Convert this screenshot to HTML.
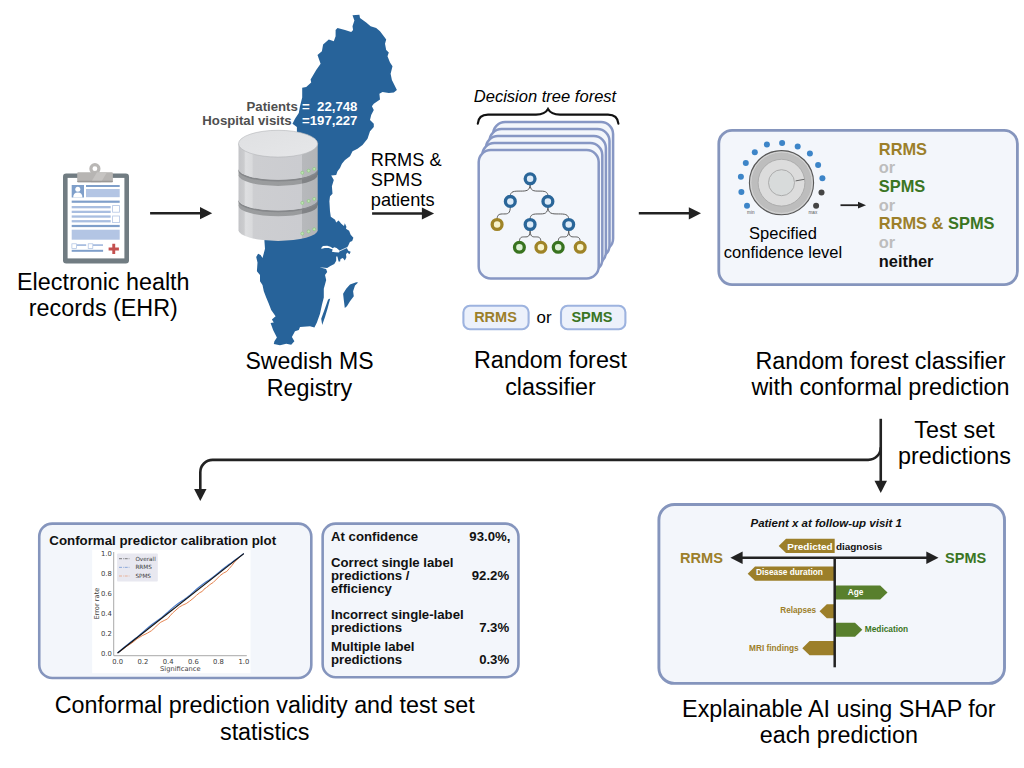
<!DOCTYPE html>
<html lang="en"><head><meta charset="utf-8"><title>Conformal prediction workflow</title>
<style>
html,body{margin:0;padding:0;background:#fff;}
body{width:1024px;height:768px;overflow:hidden;}
svg{display:block;font-family:"Liberation Sans",Arial,Helvetica,sans-serif;}
.t23{font-size:23.33px;fill:#000;}
.mid{text-anchor:middle;}
.end{text-anchor:end;}
.b{font-weight:bold;}
.i{font-style:italic;}
.dv{font-family:"DejaVu Sans","Liberation Sans",sans-serif;}
</style></head><body>
<svg width="1024" height="768" viewBox="0 0 1024 768">
<rect width="1024" height="768" fill="#fff"/>

<g id="sweden">
<path fill="#27639a" d="M352.5 15.2 L359.4 14.8 L360.0 18.1 L366.2 22.5 L370.6 26.2 L376.2 28.1 L380.0 31.2 L383.8 36.2 L386.2 39.4 L385.0 43.8 L386.2 50.0 L388.8 52.5 L387.5 56.2 L390.0 62.5 L392.5 66.2 L390.6 73.8 L391.9 80.0 L396.9 90.0 L393.8 92.5 L388.8 93.1 L382.5 91.9 L379.4 93.8 L380.0 99.4 L375.6 102.5 L373.8 103.8 L371.9 106.2 L373.8 110.0 L371.2 115.0 L370.0 120.0 L373.8 123.8 L373.8 126.9 L370.0 131.2 L367.5 138.8 L362.5 145.0 L357.5 148.8 L352.5 151.2 L350.0 156.2 L345.0 160.0 L341.9 163.8 L340.0 168.1 L337.5 171.2 L336.2 175.0 L331.2 175.6 L333.8 180.0 L331.9 186.2 L332.5 193.8 L330.0 196.2 L329.4 201.2 L330.0 211.2 L330.8 216.7 L335.1 219.8 L336.2 222.5 L338.6 220.6 L341.3 223.7 L344.0 226.1 L344.8 223.3 L346.4 226.8 L346.0 228.8 L349.1 230.8 L350.7 234.7 L353.4 237.8 L352.2 240.9 L349.9 242.1 L348.3 245.6 L346.8 247.9 L348.3 250.7 L350.7 251.8 L349.5 254.2 L347.2 252.6 L346.0 254.6 L346.4 257.3 L344.8 260.4 L342.9 258.1 L340.5 258.9 L340.1 261.6 L338.6 261.6 L337.4 256.5 L336.2 256.5 L336.2 260.8 L334.3 263.9 L330.4 265.9 L327.2 267.9 L319.4 267.3 L326.1 269.0 L327.2 272.0 L325.0 275.0 L326.2 280.0 L323.8 288.8 L323.8 297.5 L321.9 305.0 L320.0 313.8 L316.9 322.5 L314.4 327.5 L310.0 326.2 L300.0 326.9 L298.8 330.0 L295.0 331.2 L291.9 336.9 L294.4 341.2 L291.2 344.8 L286.2 343.8 L280.0 345.2 L273.8 344.0 L274.4 341.2 L276.9 337.5 L273.1 330.0 L270.6 323.1 L273.8 322.5 L271.9 319.4 L275.6 316.2 L271.2 310.0 L268.8 303.8 L266.2 297.5 L263.8 291.2 L262.5 285.0 L260.0 281.2 L260.0 275.0 L256.9 271.2 L257.5 262.5 L256.2 256.9 L258.1 253.8 L260.6 255.0 L262.5 258.1 L265.0 248.8 L264.4 240.6 L268.0 225.0 L275.0 200.0 L285.0 170.0 L296.9 140.0 L296.9 131.2 L296.9 126.9 L292.5 123.8 L295.0 118.8 L298.8 113.1 L300.0 106.2 L302.2 97.5 L302.2 87.8 L306.2 86.9 L311.2 82.5 L310.6 79.4 L316.2 70.0 L320.6 63.8 L317.5 55.0 L321.9 51.2 L323.1 44.4 L328.8 39.4 L333.8 41.2 L335.6 36.2 L335.6 30.0 L337.5 28.1 L345.0 30.0 L351.2 31.9 L353.1 30.0 L352.5 26.2 L354.4 20.6 Z"/>
<path fill="#27639a" d="M330.2 298.5 L327.5 308.8 L325.0 316.9 L322.2 325.0 L321.2 318.8 L324.4 310.0 L328.1 299.4 Z"/>
<path fill="#27639a" d="M358.1 282.5 L355.0 285.6 L353.1 291.2 L353.8 296.2 L350.0 301.2 L346.9 306.2 L344.8 308.1 L343.8 300.0 L343.1 293.8 L346.2 288.8 L350.0 284.4 L356.2 282.2 Z"/>
<path fill="#fff" d="M321.0 248.3 L322.9 246.0 L327.2 245.8 L330.4 246.8 L332.7 248.3 L334.3 247.2 L336.6 248.1 L339.8 250.7 L339.0 252.6 L335.1 252.2 L331.9 251.8 L332.7 249.5 L328.8 248.1 L324.9 247.9 L321.8 248.7 Z"/>
<path d="M339.5 251 L347.2 247.5" stroke="#fff" stroke-width="0.8" fill="none"/>
</g>
<g id="db">
<defs>
<linearGradient id="cyl" x1="0" x2="1" y1="0" y2="0">
<stop offset="0" stop-color="#c3c4c7"/><stop offset="0.07" stop-color="#cbccce"/><stop offset="0.09" stop-color="#dedfe1"/><stop offset="0.17" stop-color="#d9dadc"/><stop offset="0.19" stop-color="#cdced1"/><stop offset="0.80" stop-color="#cbccd0"/><stop offset="0.805" stop-color="#b7b9bc"/><stop offset="1" stop-color="#b2b4b7"/>
</linearGradient>
<linearGradient id="band" x1="0" x2="1" y1="0" y2="0">
<stop offset="0" stop-color="#9b9d9f"/><stop offset="0.80" stop-color="#999b9d"/><stop offset="0.805" stop-color="#828487"/><stop offset="1" stop-color="#7e8083"/>
</linearGradient>
<linearGradient id="topf" x1="0" x2="1" y1="0" y2="1">
<stop offset="0" stop-color="#dfe0e2"/><stop offset="1" stop-color="#e6e7e9"/>
</linearGradient>
</defs>

<path d="M238.5 205.3 L238.5 230.3 A39.6 10.6 0 0 0 317.7 230.3 L317.7 205.3 Z" fill="url(#cyl)"/>
<path d="M238.5 199.9 A39.6 10.6 0 0 0 317.7 199.9 L317.7 205.6 A39.6 10.6 0 0 1 238.5 205.6 Z" fill="url(#band)"/>
<path d="M238.5 199.9 A39.6 10.6 0 0 0 317.7 199.9 L317.7 201.6 A39.6 10.6 0 0 1 238.5 201.6 Z" fill="#85878a"/>
<path d="M238.5 175 L238.5 199.9 A39.6 10.6 0 0 0 317.7 199.9 L317.7 175 Z" fill="url(#cyl)"/>
<path d="M238.5 169.2 A39.6 10.6 0 0 0 317.7 169.2 L317.7 175.3 A39.6 10.6 0 0 1 238.5 175.3 Z" fill="url(#band)"/>
<path d="M238.5 169.2 A39.6 10.6 0 0 0 317.7 169.2 L317.7 170.9 A39.6 10.6 0 0 1 238.5 170.9 Z" fill="#85878a"/>
<path d="M238.5 143.7 L238.5 169.2 A39.6 10.6 0 0 0 317.7 169.2 L317.7 143.7 Z" fill="url(#cyl)"/>
<ellipse cx="278.1" cy="143.7" rx="39.6" ry="13.4" fill="url(#topf)" stroke="#b4b5b8" stroke-width="0.6"/>
<circle cx="302.3" cy="172.8" r="1.5" fill="#bfe3b5" stroke="#86c877" stroke-width="0.6"/>
<circle cx="308.6" cy="170.7" r="1.5" fill="#bfe3b5" stroke="#86c877" stroke-width="0.6"/>
<circle cx="314.2" cy="168.9" r="1.5" fill="#bfe3b5" stroke="#86c877" stroke-width="0.6"/>
<circle cx="302.3" cy="202.9" r="1.5" fill="#bfe3b5" stroke="#86c877" stroke-width="0.6"/>
<circle cx="308.6" cy="201" r="1.5" fill="#bfe3b5" stroke="#86c877" stroke-width="0.6"/>
<circle cx="314.2" cy="198.9" r="1.5" fill="#bfe3b5" stroke="#86c877" stroke-width="0.6"/>
<circle cx="302.3" cy="233.6" r="1.5" fill="#bfe3b5" stroke="#86c877" stroke-width="0.6"/>
<circle cx="308.6" cy="231.4" r="1.5" fill="#bfe3b5" stroke="#86c877" stroke-width="0.6"/>
<circle cx="314.2" cy="229.2" r="1.5" fill="#bfe3b5" stroke="#86c877" stroke-width="0.6"/>
</g>
<g class="b" font-size="13.2">
<text x="246.5" y="110.9" fill="#4f4f4f">Patients</text>
<text x="302" y="110.9" fill="#fff">=</text>
<text x="357.4" y="110.9" class="end" fill="#fff">22,748</text>
<text x="202.3" y="125" fill="#4f4f4f">Hospital visits</text>
<text x="357.4" y="125" class="end" fill="#fff">=197,227</text>
</g>
<g id="ehr">
<rect x="63" y="173.5" width="66" height="90" rx="3.2" fill="#717c82"/>
<rect x="67.6" y="177.9" width="56.8" height="80.5" fill="#fff"/>
<circle cx="94.9" cy="168.7" r="4" fill="none" stroke="#b9b7b5" stroke-width="3.2"/>
<rect x="77.2" y="172.2" width="35.7" height="10" rx="1" fill="#b7b5b3"/>
<path d="M97 172.2 L107 172.2 L101 182.2 L91 182.2 Z" fill="#c6c4c2"/>
<rect x="77.2" y="180.8" width="35.7" height="1.4" rx="0.6" fill="#9a9896"/>
<rect x="71.7" y="185" width="12.3" height="12.5" fill="#7f9fca"/>
<circle cx="77.8" cy="189.2" r="2.5" fill="#fff"/>
<path d="M73.2 197.5 Q73.2 192.4 77.8 192.4 Q82.4 192.4 82.4 197.5 Z" fill="#fff"/>
<rect x="86" y="185" width="33.7" height="2" fill="#7f9fca"/>
<rect x="86" y="189" width="33.7" height="8.2" fill="#b3c5e4"/>
<rect x="71.7" y="200.6" width="48" height="2.2" fill="#7f9fca"/>
<rect x="71.7" y="206" width="39" height="2.3" fill="#a9bee0"/>
<rect x="71.7" y="210.7" width="39" height="2.3" fill="#a9bee0"/>
<rect x="112.6" y="205.6" width="6.8" height="6.6" fill="#fff" stroke="#b3c5e4" stroke-width="0.8"/>
<rect x="71.7" y="215.4" width="39" height="2.3" fill="#a9bee0"/>
<rect x="71.7" y="220.1" width="39" height="2.3" fill="#a9bee0"/>
<rect x="112.6" y="216" width="6.8" height="6.6" fill="#fff" stroke="#b3c5e4" stroke-width="0.8"/>
<rect x="71.7" y="224.9" width="48" height="2.2" fill="#7f9fca"/>
<rect x="71.7" y="229.7" width="48" height="10" fill="#b3c5e4"/>
<rect x="76.6" y="244.2" width="9.6" height="1.8" fill="#a9bee0"/>
<rect x="93" y="244.2" width="10" height="1.8" fill="#a9bee0"/>
<rect x="71.9" y="243.8" width="4.6" height="4.6" fill="#fff" stroke="#a9bee0" stroke-width="0.7"/>
<rect x="88.2" y="243.8" width="4.6" height="4.6" fill="#fff" stroke="#a9bee0" stroke-width="0.7"/>
<rect x="71.7" y="249.8" width="31.4" height="2" fill="#7f9fca"/>
<path d="M112.3 243.8 h2.9 v3.7 h3.7 v2.9 h-3.7 v3.7 h-2.9 v-3.7 h-3.7 v-2.9 h3.7 Z" fill="#c4504f"/>
</g>
<text x="103.3" y="290" class="t23 mid">Electronic health</text>
<text x="103.3" y="316.3" class="t23 mid">records (EHR)</text>
<path d="M150.1 213.2 H201" stroke="#222222" stroke-width="2.6" fill="none"/><path d="M212.2 213.2 L200 207.1 L200 219.3 Z" fill="#222222"/>
<path d="M372.1 213.5 H422.9" stroke="#222222" stroke-width="2.6" fill="none"/><path d="M434.1 213.5 L421.9 207.4 L421.9 219.6 Z" fill="#222222"/>
<path d="M638.8 213.3 H689.8" stroke="#222222" stroke-width="2.6" fill="none"/><path d="M701 213.3 L688.8 207.2 L688.8 219.4 Z" fill="#222222"/>
<text x="370.8" y="166" font-size="18.2" fill="#000">RRMS &amp;</text>
<text x="370.8" y="186" font-size="18.2" fill="#000">SPMS</text>
<text x="370.8" y="206" font-size="18.2" fill="#000">patients</text>
<text x="309.5" y="369" class="t23 mid" style="font-size:23.05px">Swedish MS</text>
<text x="309.5" y="395.5" class="t23 mid">Registry</text>
<text x="545" y="102" class="i mid" font-size="16.55" fill="#000">Decision tree forest</text>
<path d="M477.8 123.7 Q478.5 114.6 488 114.6 H536 Q545 114.6 548 109 Q551 114.6 560 114.6 H608 Q617.6 114.6 618.4 123.7" fill="none" stroke="#111" stroke-width="2.1" stroke-linecap="round"/>
<rect x="493.10" y="122.10" width="120" height="128.3" rx="12" fill="#f3f6fb" stroke="#8797c4" stroke-width="2.5"/>
<rect x="489.50" y="129.10" width="120" height="128.3" rx="12" fill="#f3f6fb" stroke="#8797c4" stroke-width="2.5"/>
<rect x="485.90" y="136.10" width="120" height="128.3" rx="12" fill="#f3f6fb" stroke="#8797c4" stroke-width="2.5"/>
<rect x="482.30" y="143.10" width="120" height="128.3" rx="12" fill="#f3f6fb" stroke="#8797c4" stroke-width="2.5"/>
<rect x="478.70" y="150.10" width="120" height="128.3" rx="12" fill="#f3f6fb" stroke="#8797c4" stroke-width="2.5"/>
<path d="M530.1 183.8 C530.1 191.1 526.14 191.1 520.2 191.1 S510.3 191.1 510.3 196.4" fill="none" stroke="#5c5c5c" stroke-width="1"/>
<path d="M530.1 183.8 C530.1 191.1 533.66 191.1 539 191.1 S547.9 191.1 547.9 196.4" fill="none" stroke="#5c5c5c" stroke-width="1"/>
<path d="M510.3 206.4 C510.3 213.95 507.66 213.95 503.7 213.95 S497.1 213.95 497.1 219.5" fill="none" stroke="#5c5c5c" stroke-width="1"/>
<path d="M547.9 206.4 C547.9 213.95 544.34 213.95 539 213.95 S530.1 213.95 530.1 219.5" fill="none" stroke="#5c5c5c" stroke-width="1"/>
<path d="M547.9 206.4 C547.9 213.95 552.06 213.95 558.3 213.95 S568.7 213.95 568.7 219.5" fill="none" stroke="#5c5c5c" stroke-width="1"/>
<path d="M530.1 229.5 C530.1 236.9 527.96 236.9 524.75 236.9 S519.4 236.9 519.4 242.3" fill="none" stroke="#5c5c5c" stroke-width="1"/>
<path d="M530.1 229.5 C530.1 236.9 532.26 236.9 535.5 236.9 S540.9 236.9 540.9 242.3" fill="none" stroke="#5c5c5c" stroke-width="1"/>
<path d="M568.7 229.5 C568.7 236.9 566.6 236.9 563.45 236.9 S558.2 236.9 558.2 242.3" fill="none" stroke="#5c5c5c" stroke-width="1"/>
<path d="M568.7 229.5 C568.7 236.9 571 236.9 574.45 236.9 S580.2 236.9 580.2 242.3" fill="none" stroke="#5c5c5c" stroke-width="1"/>
<circle cx="530.1" cy="178.8" r="4.9" fill="#ddebf8" stroke="#2a6699" stroke-width="3.3"/>
<circle cx="510.3" cy="201.4" r="4.9" fill="#ddebf8" stroke="#2a6699" stroke-width="3.3"/>
<circle cx="547.9" cy="201.4" r="4.9" fill="#ddebf8" stroke="#2a6699" stroke-width="3.3"/>
<circle cx="497.1" cy="224.5" r="4.9" fill="#f7f3cd" stroke="#9f8427" stroke-width="3.3"/>
<circle cx="530.1" cy="224.5" r="4.9" fill="#ddebf8" stroke="#2a6699" stroke-width="3.3"/>
<circle cx="568.7" cy="224.5" r="4.9" fill="#ddebf8" stroke="#2a6699" stroke-width="3.3"/>
<circle cx="519.4" cy="247.3" r="4.9" fill="#dcf0d5" stroke="#38731f" stroke-width="3.3"/>
<circle cx="540.9" cy="247.3" r="4.9" fill="#f7f3cd" stroke="#9f8427" stroke-width="3.3"/>
<circle cx="558.2" cy="247.3" r="4.9" fill="#dcf0d5" stroke="#38731f" stroke-width="3.3"/>
<circle cx="580.2" cy="247.3" r="4.9" fill="#f7f3cd" stroke="#9f8427" stroke-width="3.3"/>
<rect x="463.4" y="305.8" width="65.2" height="23.4" rx="6.5" fill="#ecf1fb" stroke="#9db3df" stroke-width="2.1"/>
<rect x="561" y="305.8" width="64.4" height="23.4" rx="6.5" fill="#ecf1fb" stroke="#9db3df" stroke-width="2.1"/>
<text x="495.5" y="321.9" class="b mid" font-size="14.5" fill="#9c7f2a">RRMS</text>
<text x="592" y="321.9" class="b mid" font-size="14.5" fill="#3a7523">SPMS</text>
<text x="544" y="322.6" class="mid" font-size="16.9" fill="#000">or</text>
<text x="550.5" y="368.3" class="t23 mid">Random forest</text>
<text x="550.5" y="395.3" class="t23 mid">classifier</text>
<rect x="718.8" y="130.4" width="298.6" height="154.25" rx="13.3" fill="#f3f6fb" stroke="#8595bd" stroke-width="2.8"/>
<circle cx="781.5" cy="182.7" r="32.1" fill="#bdbdbd" stroke="#585858" stroke-width="1.1"/>
<circle cx="781.5" cy="182.7" r="30.7" fill="none" stroke="#d6d6d6" stroke-width="1"/>
<circle cx="781.5" cy="182.7" r="23.4" fill="#dcdcdc" stroke="#a9a9a9" stroke-width="0.9"/>
<circle cx="781.5" cy="182.7" r="13" fill="#d8dbdb" stroke="#a6a6a6" stroke-width="0.9"/>
<path d="M795.6 180.9 L804.4 179.3" stroke="#666" stroke-width="1" fill="none"/>
<circle cx="747.0" cy="205.8" r="3" fill="#3d85c8"/>
<circle cx="741.4" cy="191.9" r="3" fill="#3d85c8"/>
<circle cx="740.9" cy="176.8" r="3" fill="#3d85c8"/>
<circle cx="745.8" cy="162.9" r="3" fill="#3d85c8"/>
<circle cx="754.8" cy="152.2" r="3" fill="#3d85c8"/>
<circle cx="766.9" cy="144.4" r="3" fill="#3d85c8"/>
<circle cx="782.1" cy="143.0" r="3" fill="#3d85c8"/>
<circle cx="797.7" cy="146.4" r="3" fill="#3d85c8"/>
<circle cx="809.9" cy="153.5" r="3" fill="#3d85c8"/>
<circle cx="818.1" cy="165.1" r="3" fill="#3d85c8"/>
<circle cx="822.4" cy="178.2" r="3" fill="#3d85c8"/>
<circle cx="821.5" cy="192.4" r="3" fill="#454545"/>
<circle cx="816.1" cy="205.8" r="3" fill="#454545"/>
<text x="750.8" y="214.3" class="mid" font-size="4.6" fill="#555">min</text>
<text x="812.9" y="214.3" class="mid" font-size="4.6" fill="#555">max</text>
<text x="783" y="239.1" class="mid" font-size="16.5" fill="#000">Specified</text>
<text x="783" y="257.9" class="mid" font-size="16.5" fill="#000">confidence level</text>
<path d="M840.5 205.2 H859" stroke="#222222" stroke-width="1.8" fill="none"/><path d="M866 205.2 L858 201.8 L858 208.6 Z" fill="#222222"/>
<g class="b" font-size="16.4">
<text x="878.8" y="155" fill="#9c7f2a">RRMS</text>
<text x="878.8" y="173.4" fill="#bdbdbd">or</text>
<text x="878.8" y="192.4" fill="#3a7523">SPMS</text>
<text x="878.8" y="211" fill="#bdbdbd">or</text>
<text x="878.8" y="229.4" fill="#9c7f2a">RRMS &amp; <tspan fill="#3a7523">SPMS</tspan></text>
<text x="878.8" y="248.4" fill="#bdbdbd">or</text>
<text x="878.8" y="267.4" fill="#111">neither</text>
</g>
<text x="880.5" y="368.9" class="t23 mid">Random forest classifier</text>
<text x="880.5" y="395.2" class="t23 mid">with conformal prediction</text>
<text x="954.5" y="437.9" class="t23 mid">Test set</text>
<text x="954.5" y="464.2" class="t23 mid">predictions</text>
<path d="M880.75 418.8 V482" stroke="#222222" stroke-width="2.6" fill="none"/>
<path d="M880.75 492.9 L874.5 480.8 L887 480.8 Z" fill="#222222"/>
<path d="M880.75 447.3 A12.5 12.5 0 0 1 868.25 459.9 H212.6 A12.3 12.3 0 0 0 200.3 472.2 V490" stroke="#222222" stroke-width="2.6" fill="none"/>
<path d="M200.3 501.1 L194.1 489 L206.5 489 Z" fill="#222222"/>
<rect x="39.25" y="523.6" width="272.05" height="154.4" rx="13" fill="#f3f6fb" stroke="#8595bd" stroke-width="2.6"/>
<rect x="92.2" y="549.8" width="158.3" height="123.4" fill="#fff"/>
<text x="49.3" y="544.5" class="b" font-size="13.3" fill="#111">Conformal predictor calibration plot</text>
<path d="M113.7 552 V655.7 H246.8" fill="none" stroke="#9a9a9a" stroke-width="0.85"/>
<rect x="117.1" y="553.6" width="40.7" height="28" rx="0.8" fill="#e8e8f0"/>
<path d="M117.6 653.0 L121.9 650.1 L126.9 646.2 L132.0 642.9 L137.1 638.8 L142.2 635.7 L147.3 633.2 L151.5 630.7 L155.7 626.9 L158.3 624.2 L160.8 622.2 L164.2 620.5 L167.6 618.8 L170.1 615.8 L172.7 612.9 L176.0 610.0 L179.4 607.0 L182.8 605.1 L186.2 603.6 L189.6 601.2 L193.0 598.5 L196.4 595.4 L199.8 592.6 L202.3 591.4 L204.0 589.2 L206.5 587.5 L209.9 584.6 L213.3 582.4 L216.7 579.0 L220.1 575.6 L223.5 573.1 L226.8 571.4 L229.4 568.4 L231.9 565.5 L234.5 562.1 L237.0 559.5 L240.4 556.5 L243.8 553.6" fill="none" stroke="#e6834f" stroke-width="1" stroke-linejoin="round"/>
<path d="M117.6 653.0 L120.8 650.2 L123.9 647.5 L127.1 644.9 L130.2 642.5 L133.4 640.0 L136.6 637.6 L139.7 635.0 L142.9 632.2 L146.0 629.4 L149.2 626.7 L152.3 624.2 L155.5 621.9 L158.6 619.7 L161.8 617.4 L164.9 614.8 L168.1 612.0 L171.2 609.1 L174.4 606.4 L177.5 604.0 L180.7 601.8 L183.9 599.7 L187.0 597.4 L190.2 594.9 L193.3 592.1 L196.5 589.3 L199.6 586.7 L202.8 584.3 L205.9 582.1 L209.1 580.0 L212.2 577.7 L215.4 575.3 L218.5 572.6 L221.7 570.0 L224.9 567.5 L228.0 565.1 L231.2 562.9 L234.3 560.6 L237.5 558.3 L240.6 555.9 L243.8 553.6" fill="none" stroke="#4a7bc9" stroke-width="1.2" stroke-linejoin="round"/>
<path d="M117.6 653.0 L243.8 553.6" stroke="#111" stroke-width="1.15"/>
<g class="dv" font-size="6.8" fill="#3a3a3a">
<text x="111.8" y="655.6" class="end">0.0</text>
<text x="117.6" y="663.6" class="mid">0.0</text>
<text x="111.8" y="635.7" class="end">0.2</text>
<text x="142.9" y="663.6" class="mid">0.2</text>
<text x="111.8" y="615.9" class="end">0.4</text>
<text x="168.1" y="663.6" class="mid">0.4</text>
<text x="111.8" y="596.0" class="end">0.6</text>
<text x="193.3" y="663.6" class="mid">0.6</text>
<text x="111.8" y="576.1" class="end">0.8</text>
<text x="218.5" y="663.6" class="mid">0.8</text>
<text x="111.8" y="556.2" class="end">1.0</text>
<text x="243.8" y="663.6" class="mid">1.0</text>
<text x="180.3" y="670.6" class="mid" font-size="6.7">Significance</text>
<text transform="translate(99.2,603.6) rotate(-90)" class="mid" font-size="6.7">Error rate</text>
<path d="M119 558.7 H130.3" stroke="#333" stroke-width="0.6" stroke-dasharray="3 1 0.7 1"/>
<text x="135.4" y="560.8" font-size="5.7">Overall</text>
<path d="M119 567.35 H130.3" stroke="#4a7bc9" stroke-width="0.6" stroke-dasharray="3 1 0.7 1"/>
<text x="135.4" y="569.45" font-size="5.7">RRMS</text>
<path d="M119 576 H130.3" stroke="#e88a5c" stroke-width="0.6" stroke-dasharray="3 1 0.7 1"/>
<text x="135.4" y="578.1" font-size="5.7">SPMS</text>
</g>
<rect x="322.65" y="523.6" width="195.8" height="153.65" rx="13" fill="#f3f6fb" stroke="#8595bd" stroke-width="2.6"/>
<g class="b" font-size="13.2" fill="#111">
<text x="331" y="541.3">At confidence</text>
<text x="331" y="567.3">Correct single label</text>
<text x="331" y="580.2">predictions /</text>
<text x="331" y="593.3">efficiency</text>
<text x="331" y="619.3">Incorrect single-label</text>
<text x="331" y="632.2">predictions</text>
<text x="331" y="651">Multiple label</text>
<text x="331" y="664.3">predictions</text>
<text x="510.4" y="541.3" class="end">93.0%,</text>
<text x="509.2" y="580.2" class="end">92.2%</text>
<text x="509.2" y="632.2" class="end">7.3%</text>
<text x="509.2" y="664.3" class="end">0.3%</text>
</g>
<text x="264.7" y="713.3" class="t23 mid">Conformal prediction validity and test set</text>
<text x="264.7" y="740.2" class="t23 mid">statistics</text>
<rect x="658.9" y="504.5" width="345.6" height="178.9" rx="15.5" fill="#f3f6fb" stroke="#8595bd" stroke-width="2.9"/>
<text x="826.2" y="526.5" class="b i mid" font-size="11.5" fill="#111">Patient x at follow-up visit 1</text>
<path d="M834.7 538.7 L786 538.7 L778.7 545.9 L786 553.1 L834.7 553.1 Z" fill="#9c7f2a"/>
<path d="M834.7 566.6 L755 566.6 L747.7 573.7 L755 580.8 L834.7 580.8 Z" fill="#9c7f2a"/>
<path d="M834.7 585.4 L880.2 585.4 L887.5 592.4 L880.2 599.4 L834.7 599.4 Z" fill="#587f2d"/>
<path d="M834.7 604.3 L826.8 604.3 L819.5 611.25 L826.8 618.2 L834.7 618.2 Z" fill="#9c7f2a"/>
<path d="M834.7 622.8 L855 622.8 L862.3 629.8 L855 636.8 L834.7 636.8 Z" fill="#587f2d"/>
<path d="M834.7 641 L809.6 641 L802.3 648.15 L809.6 655.3 L834.7 655.3 Z" fill="#9c7f2a"/>
<path d="M741 557.8 H928" stroke="#222222" stroke-width="2.5"/>
<path d="M730.4 557.8 L742.6 551.5 L742.6 564.1 Z" fill="#222222"/>
<path d="M938.5 557.8 L926.3 551.5 L926.3 564.1 Z" fill="#222222"/>
<path d="M834.7 557.8 V667.3" stroke="#222222" stroke-width="2.5"/>
<text x="680" y="563" class="b" font-size="14.6" fill="#9c7f2a">RRMS</text>
<text x="945.1" y="563" class="b" font-size="14.5" fill="#3a7523">SPMS</text>
<text x="832.6" y="549.6" class="b end" font-size="9.95" fill="#fff">Predicted</text>
<text x="835.9" y="549.6" class="b" font-size="9.95" fill="#111">diagnosis</text>
<text x="756" y="575.2" class="b" font-size="8.3" fill="#fff">Disease duration</text>
<text x="855.5" y="595" class="b mid" font-size="8.3" fill="#fff">Age</text>
<text x="816.2" y="613.2" class="b end" font-size="8.2" fill="#9c7f2a">Relapses</text>
<text x="864.8" y="632.2" class="b" font-size="8.3" fill="#3a7523">Medication</text>
<text x="798.6" y="650.5" class="b end" font-size="8.25" fill="#9c7f2a">MRI findings</text>
<text x="838.8" y="716.5" class="t23 mid">Explainable AI using SHAP for</text>
<text x="838.8" y="743" class="t23 mid">each prediction</text>
</svg></body></html>
